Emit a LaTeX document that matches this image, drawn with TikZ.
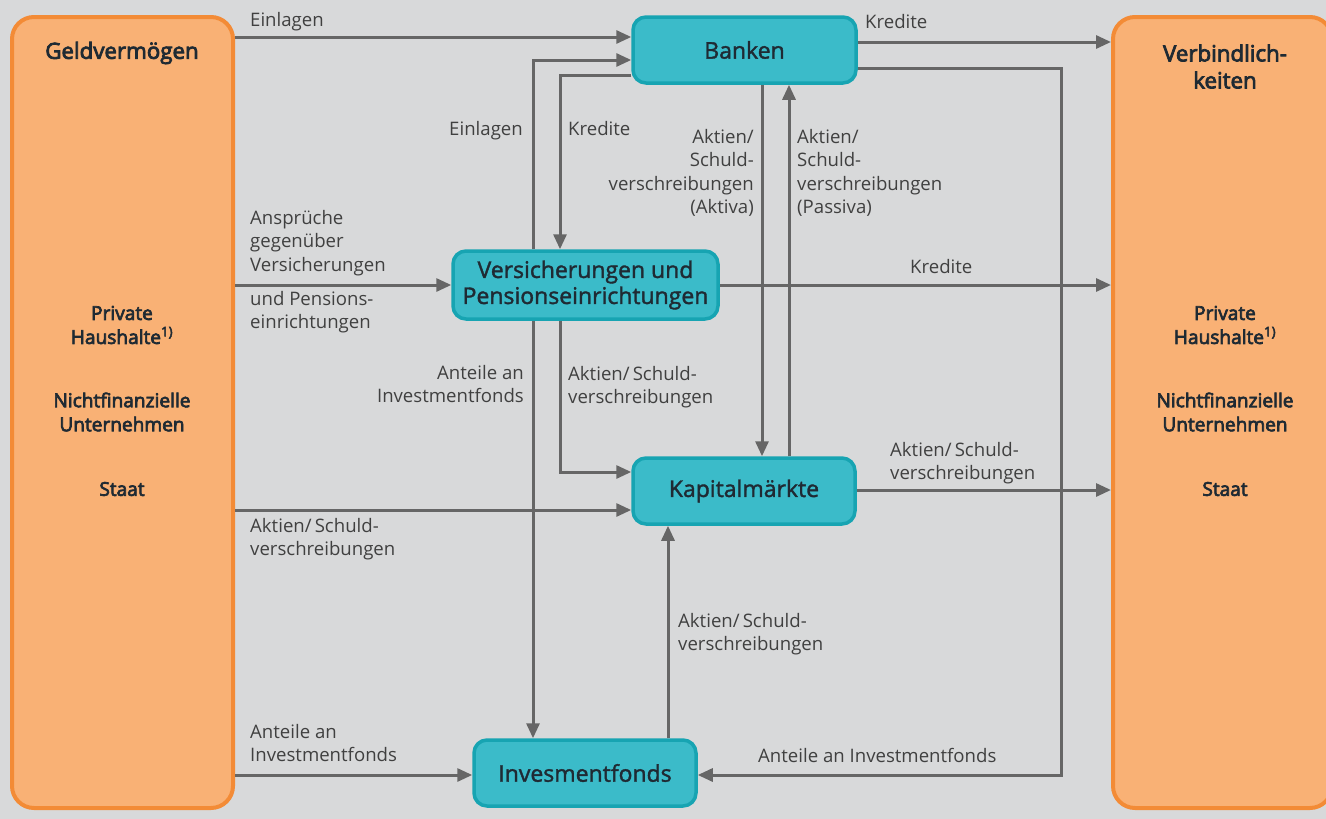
\documentclass[tikz,border=0pt]{standalone}
\usepackage{fontspec}
\setmainfont{Open Sans}
\newfontfamily\medfont[FakeBold=1.6]{Open Sans}
\newfontfamily\semifont[FakeBold=3.6]{Open Sans}
\usetikzlibrary{arrows.meta}
\definecolor{bg}{HTML}{D8D9DA}
\definecolor{orfill}{HTML}{F9B175}
\definecolor{ordraw}{HTML}{F38B36}
\definecolor{tefill}{HTML}{3BBBC9}
\definecolor{tedraw}{HTML}{17A4B2}
\definecolor{flowc}{HTML}{666666}
\definecolor{labc}{HTML}{404040}
\definecolor{titc}{HTML}{1F2A33}
\tikzset{
  sidebox/.style={draw=ordraw, fill=orfill, line width=4pt, rounded corners=22pt, inner sep=0pt},
  tealbox/.style={draw=tedraw, fill=tefill, line width=3.5pt, rounded corners=13pt, inner sep=0pt,
    align=center, text=titc, font=\medfont\fontsize{23}{26}\selectfont},
  flow/.style={draw=flowc, line width=3pt, -{Triangle[length=15pt,width=13pt]}},
  flab/.style={anchor=north west, inner sep=0pt, text=labc, align=left, font=\fontsize{18.6}{23.5}\selectfont},
  flabr/.style={anchor=north east, inner sep=0pt, text=labc, align=right, font=\fontsize{18.6}{23.5}\selectfont},
  sidetxt/.style={inner sep=0pt, text=titc, align=center, font=\semifont\fontsize{19.1}{24}\selectfont},
  sidetitle/.style={inner sep=0pt, text=titc, align=center, font=\semifont\fontsize{22.3}{27}\selectfont}
}
\begin{document}
\begin{tikzpicture}[x=1pt,y=-1pt]
\useasboundingbox (0,0) rectangle (1326,819);
\fill[bg] (0,0) rectangle (1326,819);
\begin{scope}
\clip (0,0) rectangle (1326,819);
\node[sidebox, minimum width=221pt, minimum height=791pt] (L) at (122.5,412.5) {};
\node[sidebox, minimum width=219pt, minimum height=791pt] (R) at (1222.5,412.5) {};
\end{scope}
% side texts
\node[sidetitle] (Lt) at (122,53) {Geldvermögen};
\node[sidetxt] (L1) at (122,325) {Private\\Haushalte\textsuperscript{1)}};
\node[sidetxt] (L2) at (122,412) {Nichtfinanzielle\\Unternehmen};
\node[sidetxt] (L3) at (122,489) {Staat};
\node[sidetitle] (Rt) at (1225,66.5) {Verbindlich-\\keiten};
\node[sidetxt] (R1) at (1225,325) {Private\\Haushalte\textsuperscript{1)}};
\node[sidetxt] (R2) at (1225,412) {Nichtfinanzielle\\Unternehmen};
\node[sidetxt] (R3) at (1225,489) {Staat};
% teal boxes
\node[tealbox, minimum width=223pt, minimum height=66pt] (B) at (744.5,50) {Banken};
\node[tealbox, minimum width=265pt, minimum height=68pt] (V) at (585.5,285) {Versicherungen und\\Pensionseinrichtungen};
\node[tealbox, minimum width=222pt, minimum height=66pt] (K) at (744,491) {Kapitalmärkte};
\node[tealbox, minimum width=222pt, minimum height=66pt] (I) at (585,773) {Invesmentfonds};
% connectors
\coordinate (c3) at (1061,775);
\draw[flow] (L.east |- 0,37) -- (B.west |- 0,37);
\draw[flow] (B.east |- 0,42) -- (R.west |- 0,42);
\draw[flow] (B.east |- 0,68) -| (c3) -- (I.east |- c3);
\draw[flow] (V.north -| 533,0) |- (B.west |- 0,60);
\draw[flow] (B.west |- 0,75) -| (V.north -| 560,0);
\draw[flow] (B.south -| 762,0) -- (K.north -| 762,0);
\draw[flow] (K.north -| 789,0) -- (B.south -| 789,0);
\draw[flow] (L.east |- 0,285) -- (V.west |- 0,285);
\draw[flow] (V.east |- 0,285) -- (R.west |- 0,285);
\draw[flow] (V.south -| 533,0) -- (I.north -| 533,0);
\draw[flow] (V.south -| 560,0) |- (K.west |- 0,472);
\draw[flow] (L.east |- 0,510) -- (K.west |- 0,510);
\draw[flow] (K.east |- 0,490) -- (R.west |- 0,490);
\draw[flow] (I.north -| 668,0) -- (K.south -| 668,0);
\draw[flow] (L.east |- 0,775) -- (I.west |- 0,775);
% labels
\node[flab] (t1) at (250,12) {Einlagen};
\node[flab] (t2) at (865,14) {Kredite};
\node[flabr] (t3) at (523,121) {Einlagen};
\node[flab] (t4) at (568,121) {Kredite};
\node[flabr] (t5) at (754,129) {Aktien/\\Schuld-\\verschreibungen\\(Aktiva)};
\node[flab] (t6) at (797,129) {Aktien/\\Schuld-\\verschreibungen\\(Passiva)};
\node[flab] (t7) at (250,210) {Ansprüche\\gegenüber\\Versicherungen};
\node[flab] (t8) at (250,291) {und Pensions-\\einrichtungen};
\node[flab] (t9) at (910,259) {Kredite};
\node[flabr] (t10) at (524,365) {Anteile an\\Investmentfonds};
\node[flab] (t11) at (568,366) {Aktien/\,Schuld-\\verschreibungen};
\node[flab] (t12) at (890,442) {Aktien/\,Schuld-\\verschreibungen};
\node[flab] (t13) at (250,518) {Aktien/\,Schuld-\\verschreibungen};
\node[flab] (t14) at (678,613) {Aktien/\,Schuld-\\verschreibungen};
\node[flab] (t15) at (250,724) {Anteile an\\Investmentfonds};
\node[flab] (t16) at (758,748) {Anteile an Investmentfonds};
\end{tikzpicture}
\end{document}
